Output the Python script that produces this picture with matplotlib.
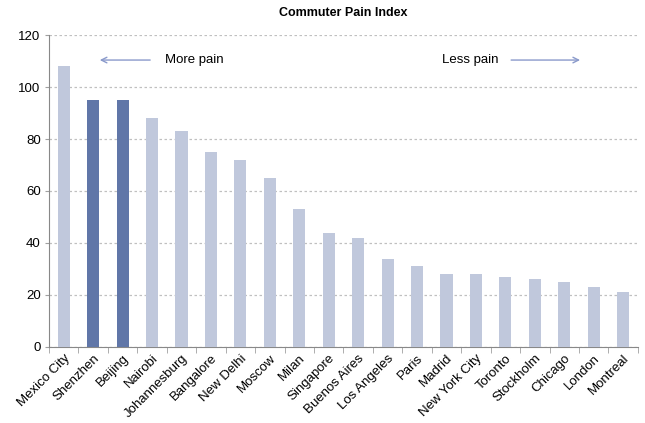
import numpy as np
import matplotlib.pyplot as plt

plt.rcParams['font.family'] = ['Liberation Sans', 'DejaVu Sans']

cities = ['Mexico City', 'Shenzhen', 'Beijing', 'Nairobi', 'Johannesburg',
          'Bangalore', 'New Delhi', 'Moscow', 'Milan', 'Singapore',
          'Buenos Aires', 'Los Angeles', 'Paris', 'Madrid', 'New York City',
          'Toronto', 'Stockholm', 'Chicago', 'London', 'Montreal']
pain = [108, 95, 95, 88, 83, 75, 72, 65, 53, 44,
        42, 34, 31, 28, 28, 27, 26, 25, 23, 21]
highlight = ['Shenzhen', 'Beijing']

light = '#c0c8dc'
dark = '#6076a8'

fig = plt.figure(figsize=(6.45, 4.23), dpi=100)
ax = fig.add_axes([0.076, 0.18, 0.913, 0.737])

x = np.arange(len(cities))
colors = [dark if c in highlight else light for c in cities]
ax.bar(x, pain, width=0.41, color=colors, zorder=3)

ax.set_xlim(-0.5, len(cities) - 0.5)
ax.set_ylim(0, 120)
ax.set_yticks(range(0, 121, 20))
ax.yaxis.grid(True, linestyle=(0, (2, 2)), color='#c0c0c0', linewidth=0.9, zorder=0)

ax.set_xticks(x)
ax.set_xticklabels(cities, rotation=45, ha='right', rotation_mode='anchor', fontsize=9.5)
ax.tick_params(axis='x', length=0, pad=4)
ax.set_xticks(np.arange(-0.5, len(cities), 1), minor=True)
ax.tick_params(axis='x', which='minor', length=4, color='#a0a0a0')
ax.tick_params(axis='y', length=3, color='#a0a0a0', labelsize=9.5, pad=3)

for side in ['top', 'right']:
    ax.spines[side].set_visible(False)
for side in ['left', 'bottom']:
    ax.spines[side].set_color('#888888')

ax.set_title('Commuter Pain Index', fontsize=9, fontweight='bold', pad=14)

# direction hints above the bars
arrow_style = dict(arrowstyle='->', color='#8a9acb', lw=1.0)
ax.annotate('', xy=(1.13, 110.4), xytext=(3.03, 110.4), arrowprops=arrow_style)
ax.text(3.44, 110.4, 'More pain', fontsize=9.5, va='center', ha='left')
ax.text(14.75, 110.4, 'Less pain', fontsize=9.5, va='center', ha='right')
ax.annotate('', xy=(17.63, 110.4), xytext=(15.1, 110.4), arrowprops=arrow_style)

fig.savefig('out.png', dpi=100)
